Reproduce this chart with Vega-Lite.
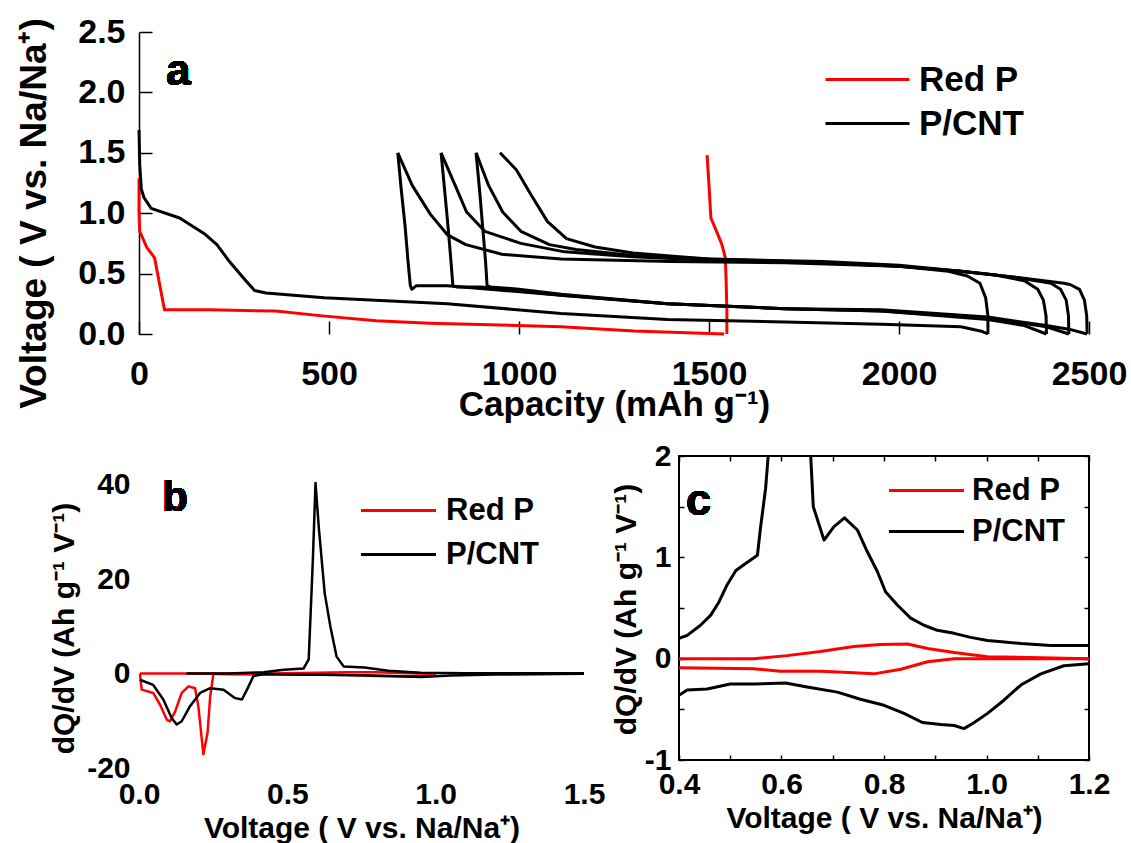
{
  "$schema": "https://vega.github.io/schema/vega-lite/v6.json",
  "background": "white",
  "padding": {"left": 14, "top": 15, "right": 0, "bottom": 0},
  "config": {
    "view": {"stroke": null},
    "font": "Liberation Sans",
    "axis": {"labelFont": "Liberation Sans", "titleFont": "Liberation Sans", "labelFontWeight": "bold", "titleFontWeight": "bold", "labelColor": "black", "titleColor": "black", "tickColor": "black", "domainColor": "black", "grid": false, "labelOverlap": false, "labelFlush": false, "labelBound": false},
    "legend": {"labelFont": "Liberation Sans", "labelFontWeight": "bold", "labelColor": "black", "padding": 0, "symbolType": "M-3,0H3", "title": null}
  },
  "datasets": {
    "a": [
      {"s":"Red P","k":"r1","x":0,"y":1.29},{"s":"Red P","k":"r1","x":0,"y":1.0},{"s":"Red P","k":"r1","x":2,"y":0.85},{"s":"Red P","k":"r1","x":20,"y":0.72},{"s":"Red P","k":"r1","x":41,"y":0.63},{"s":"Red P","k":"r1","x":67,"y":0.2},{"s":"Red P","k":"r1","x":183,"y":0.2},{"s":"Red P","k":"r1","x":360,"y":0.19},{"s":"Red P","k":"r1","x":482,"y":0.15},{"s":"Red P","k":"r1","x":624,"y":0.11},{"s":"Red P","k":"r1","x":765,"y":0.09},{"s":"Red P","k":"r1","x":1111,"y":0.06},{"s":"Red P","k":"r1","x":1303,"y":0.025},{"s":"Red P","k":"r1","x":1540,"y":0.0},
      {"s":"Red P","k":"r2","x":1547,"y":0.0},{"s":"Red P","k":"r2","x":1547,"y":0.19},{"s":"Red P","k":"r2","x":1545,"y":0.45},{"s":"Red P","k":"r2","x":1543,"y":0.63},{"s":"Red P","k":"r2","x":1534,"y":0.74},{"s":"Red P","k":"r2","x":1520,"y":0.85},{"s":"Red P","k":"r2","x":1505,"y":0.96},{"s":"Red P","k":"r2","x":1500,"y":1.23},{"s":"Red P","k":"r2","x":1495,"y":1.48},
      {"s":"P/CNT","k":"d1","x":0,"y":1.69},{"s":"P/CNT","k":"d1","x":2,"y":1.4},{"s":"P/CNT","k":"d1","x":6,"y":1.2},{"s":"P/CNT","k":"d1","x":13,"y":1.13},{"s":"P/CNT","k":"d1","x":32,"y":1.04},{"s":"P/CNT","k":"d1","x":107,"y":0.96},{"s":"P/CNT","k":"d1","x":172,"y":0.83},{"s":"P/CNT","k":"d1","x":205,"y":0.74},{"s":"P/CNT","k":"d1","x":238,"y":0.6},{"s":"P/CNT","k":"d1","x":276,"y":0.46},{"s":"P/CNT","k":"d1","x":304,"y":0.36},{"s":"P/CNT","k":"d1","x":334,"y":0.34},{"s":"P/CNT","k":"d1","x":487,"y":0.3},{"s":"P/CNT","k":"d1","x":811,"y":0.25},{"s":"P/CNT","k":"d1","x":1111,"y":0.17},{"s":"P/CNT","k":"d1","x":1391,"y":0.12},{"s":"P/CNT","k":"d1","x":1700,"y":0.1},{"s":"P/CNT","k":"d1","x":1953,"y":0.08},{"s":"P/CNT","k":"d1","x":2163,"y":0.06},{"s":"P/CNT","k":"d1","x":2220,"y":0.02},{"s":"P/CNT","k":"d1","x":2234,"y":0.0},
      {"s":"P/CNT","k":"c1","x":2234,"y":0.0},{"s":"P/CNT","k":"c1","x":2234,"y":0.15},{"s":"P/CNT","k":"c1","x":2228,"y":0.3},{"s":"P/CNT","k":"c1","x":2213,"y":0.42},{"s":"P/CNT","k":"c1","x":2180,"y":0.48},{"s":"P/CNT","k":"c1","x":2130,"y":0.52},{"s":"P/CNT","k":"c1","x":2000,"y":0.56},{"s":"P/CNT","k":"c1","x":1700,"y":0.59},{"s":"P/CNT","k":"c1","x":1400,"y":0.6},{"s":"P/CNT","k":"c1","x":1111,"y":0.62},{"s":"P/CNT","k":"c1","x":955,"y":0.66},{"s":"P/CNT","k":"c1","x":860,"y":0.74},{"s":"P/CNT","k":"c1","x":812,"y":0.82},{"s":"P/CNT","k":"c1","x":767,"y":0.99},{"s":"P/CNT","k":"c1","x":719,"y":1.23},{"s":"P/CNT","k":"c1","x":681,"y":1.5},
      {"s":"P/CNT","k":"d2","x":681,"y":1.5},{"s":"P/CNT","k":"d2","x":690,"y":1.2},{"s":"P/CNT","k":"d2","x":700,"y":0.9},{"s":"P/CNT","k":"d2","x":708,"y":0.6},{"s":"P/CNT","k":"d2","x":714,"y":0.4},{"s":"P/CNT","k":"d2","x":718,"y":0.37},{"s":"P/CNT","k":"d2","x":730,"y":0.4},{"s":"P/CNT","k":"d2","x":811,"y":0.4},{"s":"P/CNT","k":"d2","x":1111,"y":0.32},{"s":"P/CNT","k":"d2","x":1391,"y":0.25},{"s":"P/CNT","k":"d2","x":1700,"y":0.21},{"s":"P/CNT","k":"d2","x":1953,"y":0.19},{"s":"P/CNT","k":"d2","x":2234,"y":0.12},{"s":"P/CNT","k":"d2","x":2330,"y":0.07},{"s":"P/CNT","k":"d2","x":2388,"y":0.0},
      {"s":"P/CNT","k":"c2","x":2388,"y":0.0},{"s":"P/CNT","k":"c2","x":2387,"y":0.15},{"s":"P/CNT","k":"c2","x":2380,"y":0.28},{"s":"P/CNT","k":"c2","x":2365,"y":0.37},{"s":"P/CNT","k":"c2","x":2330,"y":0.44},{"s":"P/CNT","k":"c2","x":2250,"y":0.49},{"s":"P/CNT","k":"c2","x":2163,"y":0.52},{"s":"P/CNT","k":"c2","x":2000,"y":0.56},{"s":"P/CNT","k":"c2","x":1800,"y":0.59},{"s":"P/CNT","k":"c2","x":1500,"y":0.61},{"s":"P/CNT","k":"c2","x":1300,"y":0.64},{"s":"P/CNT","k":"c2","x":1120,"y":0.68},{"s":"P/CNT","k":"c2","x":1005,"y":0.75},{"s":"P/CNT","k":"c2","x":910,"y":0.85},{"s":"P/CNT","k":"c2","x":862,"y":1.01},{"s":"P/CNT","k":"c2","x":832,"y":1.23},{"s":"P/CNT","k":"c2","x":795,"y":1.5},
      {"s":"P/CNT","k":"d3","x":795,"y":1.5},{"s":"P/CNT","k":"d3","x":804,"y":1.2},{"s":"P/CNT","k":"d3","x":813,"y":0.9},{"s":"P/CNT","k":"d3","x":821,"y":0.6},{"s":"P/CNT","k":"d3","x":826,"y":0.4},{"s":"P/CNT","k":"d3","x":835,"y":0.39},{"s":"P/CNT","k":"d3","x":900,"y":0.39},{"s":"P/CNT","k":"d3","x":1111,"y":0.32},{"s":"P/CNT","k":"d3","x":1391,"y":0.25},{"s":"P/CNT","k":"d3","x":1700,"y":0.21},{"s":"P/CNT","k":"d3","x":1953,"y":0.19},{"s":"P/CNT","k":"d3","x":2234,"y":0.13},{"s":"P/CNT","k":"d3","x":2388,"y":0.06},{"s":"P/CNT","k":"d3","x":2447,"y":0.0},
      {"s":"P/CNT","k":"c3","x":2447,"y":0.0},{"s":"P/CNT","k":"c3","x":2446,"y":0.15},{"s":"P/CNT","k":"c3","x":2440,"y":0.28},{"s":"P/CNT","k":"c3","x":2425,"y":0.37},{"s":"P/CNT","k":"c3","x":2400,"y":0.42},{"s":"P/CNT","k":"c3","x":2305,"y":0.47},{"s":"P/CNT","k":"c3","x":2163,"y":0.52},{"s":"P/CNT","k":"c3","x":2000,"y":0.56},{"s":"P/CNT","k":"c3","x":1800,"y":0.59},{"s":"P/CNT","k":"c3","x":1500,"y":0.62},{"s":"P/CNT","k":"c3","x":1300,"y":0.65},{"s":"P/CNT","k":"c3","x":1150,"y":0.7},{"s":"P/CNT","k":"c3","x":1080,"y":0.74},{"s":"P/CNT","k":"c3","x":1005,"y":0.85},{"s":"P/CNT","k":"c3","x":957,"y":1.01},{"s":"P/CNT","k":"c3","x":920,"y":1.23},{"s":"P/CNT","k":"c3","x":887,"y":1.5},
      {"s":"P/CNT","k":"d4","x":887,"y":1.5},{"s":"P/CNT","k":"d4","x":896,"y":1.2},{"s":"P/CNT","k":"d4","x":904,"y":0.9},{"s":"P/CNT","k":"d4","x":912,"y":0.6},{"s":"P/CNT","k":"d4","x":916,"y":0.4},{"s":"P/CNT","k":"d4","x":925,"y":0.39},{"s":"P/CNT","k":"d4","x":1000,"y":0.37},{"s":"P/CNT","k":"d4","x":1111,"y":0.33},{"s":"P/CNT","k":"d4","x":1391,"y":0.25},{"s":"P/CNT","k":"d4","x":1700,"y":0.21},{"s":"P/CNT","k":"d4","x":1953,"y":0.2},{"s":"P/CNT","k":"d4","x":2234,"y":0.14},{"s":"P/CNT","k":"d4","x":2388,"y":0.07},{"s":"P/CNT","k":"d4","x":2447,"y":0.04},{"s":"P/CNT","k":"d4","x":2495,"y":0.0},
      {"s":"P/CNT","k":"c4","x":2495,"y":0.0},{"s":"P/CNT","k":"c4","x":2494,"y":0.15},{"s":"P/CNT","k":"c4","x":2488,"y":0.28},{"s":"P/CNT","k":"c4","x":2475,"y":0.37},{"s":"P/CNT","k":"c4","x":2450,"y":0.41},{"s":"P/CNT","k":"c4","x":2434,"y":0.42},{"s":"P/CNT","k":"c4","x":2305,"y":0.47},{"s":"P/CNT","k":"c4","x":2163,"y":0.52},{"s":"P/CNT","k":"c4","x":2000,"y":0.57},{"s":"P/CNT","k":"c4","x":1800,"y":0.6},{"s":"P/CNT","k":"c4","x":1500,"y":0.62},{"s":"P/CNT","k":"c4","x":1300,"y":0.67},{"s":"P/CNT","k":"c4","x":1200,"y":0.72},{"s":"P/CNT","k":"c4","x":1125,"y":0.79},{"s":"P/CNT","k":"c4","x":1075,"y":0.93},{"s":"P/CNT","k":"c4","x":1032,"y":1.15},{"s":"P/CNT","k":"c4","x":993,"y":1.36},{"s":"P/CNT","k":"c4","x":950,"y":1.5}
    ],
    "b": [
      {"s":"Red P","k":"rd","x":1.0,"y":-0.3},{"s":"Red P","k":"rd","x":0.9,"y":-0.6},{"s":"Red P","k":"rd","x":0.8,"y":-0.5},{"s":"Red P","k":"rd","x":0.7,"y":-0.3},{"s":"Red P","k":"rd","x":0.6,"y":-0.2},{"s":"Red P","k":"rd","x":0.45,"y":-0.2},{"s":"Red P","k":"rd","x":0.3,"y":-0.15},{"s":"Red P","k":"rd","x":0.26,"y":-0.1},{"s":"Red P","k":"rd","x":0.251,"y":0.0},{"s":"Red P","k":"rd","x":0.24,"y":-4.8},{"s":"Red P","k":"rd","x":0.231,"y":-12.6},{"s":"Red P","k":"rd","x":0.217,"y":-17.1},{"s":"Red P","k":"rd","x":0.2,"y":-6.9},{"s":"Red P","k":"rd","x":0.189,"y":-3.1},{"s":"Red P","k":"rd","x":0.167,"y":-2.7},{"s":"Red P","k":"rd","x":0.144,"y":-4.1},{"s":"Red P","k":"rd","x":0.122,"y":-8.0},{"s":"Red P","k":"rd","x":0.105,"y":-10.1},{"s":"Red P","k":"rd","x":0.094,"y":-9.8},{"s":"Red P","k":"rd","x":0.071,"y":-6.6},{"s":"Red P","k":"rd","x":0.048,"y":-4.1},{"s":"Red P","k":"rd","x":0.009,"y":-3.4},{"s":"Red P","k":"rd","x":0.003,"y":0.0},
      {"s":"Red P","k":"rc","x":0.003,"y":0.0},{"s":"Red P","k":"rc","x":0.4,"y":0.0},{"s":"Red P","k":"rc","x":0.5,"y":0.1},{"s":"Red P","k":"rc","x":0.6,"y":0.2},{"s":"Red P","k":"rc","x":0.7,"y":0.3},{"s":"Red P","k":"rc","x":0.8,"y":0.3},{"s":"Red P","k":"rc","x":0.9,"y":0.1},{"s":"Red P","k":"rc","x":1.0,"y":0.0},
      {"s":"P/CNT","k":"kc","x":0.16,"y":0.0},{"s":"P/CNT","k":"kc","x":0.3,"y":0.0},{"s":"P/CNT","k":"kc","x":0.42,"y":0.3},{"s":"P/CNT","k":"kc","x":0.488,"y":0.8},{"s":"P/CNT","k":"kc","x":0.555,"y":1.1},{"s":"P/CNT","k":"kc","x":0.572,"y":3.0},{"s":"P/CNT","k":"kc","x":0.586,"y":24},{"s":"P/CNT","k":"kc","x":0.595,"y":40.4},{"s":"P/CNT","k":"kc","x":0.606,"y":31},{"s":"P/CNT","k":"kc","x":0.626,"y":17},{"s":"P/CNT","k":"kc","x":0.645,"y":10},{"s":"P/CNT","k":"kc","x":0.666,"y":3.6},{"s":"P/CNT","k":"kc","x":0.69,"y":1.5},{"s":"P/CNT","k":"kc","x":0.76,"y":1.3},{"s":"P/CNT","k":"kc","x":0.84,"y":0.6},{"s":"P/CNT","k":"kc","x":0.95,"y":0.2},{"s":"P/CNT","k":"kc","x":1.1,"y":0.1},{"s":"P/CNT","k":"kc","x":1.5,"y":0.05},
      {"s":"P/CNT","k":"kd","x":1.5,"y":-0.05},{"s":"P/CNT","k":"kd","x":1.2,"y":-0.2},{"s":"P/CNT","k":"kd","x":1.05,"y":-0.4},{"s":"P/CNT","k":"kd","x":0.95,"y":-0.7},{"s":"P/CNT","k":"kd","x":0.85,"y":-0.5},{"s":"P/CNT","k":"kd","x":0.75,"y":-0.35},{"s":"P/CNT","k":"kd","x":0.6,"y":-0.25},{"s":"P/CNT","k":"kd","x":0.5,"y":-0.2},{"s":"P/CNT","k":"kd","x":0.42,"y":-0.1},{"s":"P/CNT","k":"kd","x":0.386,"y":-0.5},{"s":"P/CNT","k":"kd","x":0.364,"y":-3.4},{"s":"P/CNT","k":"kd","x":0.347,"y":-5.5},{"s":"P/CNT","k":"kd","x":0.324,"y":-5.2},{"s":"P/CNT","k":"kd","x":0.285,"y":-3.4},{"s":"P/CNT","k":"kd","x":0.24,"y":-3.1},{"s":"P/CNT","k":"kd","x":0.206,"y":-4.1},{"s":"P/CNT","k":"kd","x":0.172,"y":-6.9},{"s":"P/CNT","k":"kd","x":0.144,"y":-10.1},{"s":"P/CNT","k":"kd","x":0.127,"y":-10.8},{"s":"P/CNT","k":"kd","x":0.11,"y":-9.4},{"s":"P/CNT","k":"kd","x":0.082,"y":-5.5},{"s":"P/CNT","k":"kd","x":0.048,"y":-2.4},{"s":"P/CNT","k":"kd","x":0.003,"y":-1.3}
    ],
    "c": [
      {"s":"Red P","k":"rc","x":0.4,"y":0.0},{"s":"Red P","k":"rc","x":0.546,"y":0.0},{"s":"Red P","k":"rc","x":0.611,"y":0.03},{"s":"Red P","k":"rc","x":0.676,"y":0.07},{"s":"Red P","k":"rc","x":0.741,"y":0.12},{"s":"Red P","k":"rc","x":0.793,"y":0.14},{"s":"Red P","k":"rc","x":0.846,"y":0.145},{"s":"Red P","k":"rc","x":0.885,"y":0.1},{"s":"Red P","k":"rc","x":0.937,"y":0.06},{"s":"Red P","k":"rc","x":1.002,"y":0.02},{"s":"Red P","k":"rc","x":1.2,"y":0.0},
      {"s":"Red P","k":"rd","x":0.4,"y":-0.09},{"s":"Red P","k":"rd","x":0.546,"y":-0.1},{"s":"Red P","k":"rd","x":0.598,"y":-0.125},{"s":"Red P","k":"rd","x":0.676,"y":-0.125},{"s":"Red P","k":"rd","x":0.741,"y":-0.14},{"s":"Red P","k":"rd","x":0.78,"y":-0.15},{"s":"Red P","k":"rd","x":0.833,"y":-0.105},{"s":"Red P","k":"rd","x":0.885,"y":-0.03},{"s":"Red P","k":"rd","x":0.937,"y":0.0},{"s":"Red P","k":"rd","x":1.002,"y":0.0},{"s":"Red P","k":"rd","x":1.2,"y":0.0},
      {"s":"P/CNT","k":"kc","x":0.4,"y":0.2},{"s":"P/CNT","k":"kc","x":0.416,"y":0.23},{"s":"P/CNT","k":"kc","x":0.442,"y":0.33},{"s":"P/CNT","k":"kc","x":0.462,"y":0.43},{"s":"P/CNT","k":"kc","x":0.478,"y":0.56},{"s":"P/CNT","k":"kc","x":0.494,"y":0.73},{"s":"P/CNT","k":"kc","x":0.511,"y":0.87},{"s":"P/CNT","k":"kc","x":0.53,"y":0.94},{"s":"P/CNT","k":"kc","x":0.553,"y":1.02},{"s":"P/CNT","k":"kc","x":0.559,"y":1.29},{"s":"P/CNT","k":"kc","x":0.569,"y":1.68},{"s":"P/CNT","k":"kc","x":0.574,"y":2.0},{"s":"P/CNT","k":"kc","x":0.595,"y":40.4},{"s":"P/CNT","k":"kc","x":0.657,"y":2.0},{"s":"P/CNT","k":"kc","x":0.662,"y":1.5},{"s":"P/CNT","k":"kc","x":0.683,"y":1.17},{"s":"P/CNT","k":"kc","x":0.702,"y":1.3},{"s":"P/CNT","k":"kc","x":0.723,"y":1.39},{"s":"P/CNT","k":"kc","x":0.748,"y":1.27},{"s":"P/CNT","k":"kc","x":0.767,"y":1.06},{"s":"P/CNT","k":"kc","x":0.787,"y":0.86},{"s":"P/CNT","k":"kc","x":0.803,"y":0.66},{"s":"P/CNT","k":"kc","x":0.826,"y":0.53},{"s":"P/CNT","k":"kc","x":0.852,"y":0.4},{"s":"P/CNT","k":"kc","x":0.878,"y":0.33},{"s":"P/CNT","k":"kc","x":0.904,"y":0.28},{"s":"P/CNT","k":"kc","x":0.937,"y":0.25},{"s":"P/CNT","k":"kc","x":0.969,"y":0.21},{"s":"P/CNT","k":"kc","x":1.002,"y":0.18},{"s":"P/CNT","k":"kc","x":1.067,"y":0.15},{"s":"P/CNT","k":"kc","x":1.125,"y":0.13},{"s":"P/CNT","k":"kc","x":1.2,"y":0.13},
      {"s":"P/CNT","k":"kd","x":0.4,"y":-0.36},{"s":"P/CNT","k":"kd","x":0.416,"y":-0.31},{"s":"P/CNT","k":"kd","x":0.455,"y":-0.3},{"s":"P/CNT","k":"kd","x":0.5,"y":-0.25},{"s":"P/CNT","k":"kd","x":0.546,"y":-0.25},{"s":"P/CNT","k":"kd","x":0.608,"y":-0.24},{"s":"P/CNT","k":"kd","x":0.65,"y":-0.28},{"s":"P/CNT","k":"kd","x":0.709,"y":-0.33},{"s":"P/CNT","k":"kd","x":0.754,"y":-0.4},{"s":"P/CNT","k":"kd","x":0.8,"y":-0.46},{"s":"P/CNT","k":"kd","x":0.839,"y":-0.54},{"s":"P/CNT","k":"kd","x":0.875,"y":-0.63},{"s":"P/CNT","k":"kd","x":0.911,"y":-0.65},{"s":"P/CNT","k":"kd","x":0.937,"y":-0.66},{"s":"P/CNT","k":"kd","x":0.956,"y":-0.69},{"s":"P/CNT","k":"kd","x":0.976,"y":-0.63},{"s":"P/CNT","k":"kd","x":1.002,"y":-0.54},{"s":"P/CNT","k":"kd","x":1.034,"y":-0.41},{"s":"P/CNT","k":"kd","x":1.067,"y":-0.26},{"s":"P/CNT","k":"kd","x":1.106,"y":-0.15},{"s":"P/CNT","k":"kd","x":1.151,"y":-0.07},{"s":"P/CNT","k":"kd","x":1.2,"y":-0.05}
    ]
  },
  "bounds": "flush",
  "spacing": 122,
  "resolve": {"scale": {"color": "independent"}, "legend": {"color": "independent"}},
  "vconcat": [
    {
      "width": 950, "height": 302,
      "data": {"name": "a"},
      "layer": [
        {
          "mark": {"type": "line", "strokeWidth": 3, "strokeJoin": "round"},
          "encoding": {
            "x": {"field": "x", "type": "quantitative", "scale": {"domain": [0, 2500], "nice": false, "zero": false},
              "axis": {"values": [0, 500, 1000, 1500, 2000, 2500], "format": "d", "domain": false, "ticks": true, "tickSize": -13, "tickWidth": 1.5, "labelPadding": 36, "labelFontSize": 34, "title": "Capacity (mAh g⁻¹)", "titleFontSize": 35, "titleY": 53, "titleBaseline": "top"}},
            "y": {"field": "y", "type": "quantitative", "scale": {"domain": [0, 2.5], "nice": false, "zero": false},
              "axis": {"values": [0, 0.5, 1, 1.5, 2, 2.5], "format": ".1f", "domain": true, "domainWidth": 1.5, "ticks": true, "tickSize": -13, "tickWidth": 1.5, "labelPadding": 27, "labelFontSize": 34, "title": "Voltage ( V vs. Na/Na⁺)", "titleFontSize": 37, "titleX": -94, "titleY": 181, "titleAngle": -90, "titleBaseline": "alphabetic", "titleAlign": "center"}},
            "color": {"field": "s", "type": "nominal", "scale": {"domain": ["Red P", "P/CNT"], "range": ["#ff0000", "#000000"]},
              "legend": {"title": null, "orient": "none", "legendX": 711, "legendY": 30, "symbolSize": 784, "symbolStrokeWidth": 3, "labelFontSize": 35, "labelOffset": 34, "rowPadding": 8}},
            "detail": {"field": "k"},
            "order": {"value": null}
          }
        },
        {
          "mark": {"type": "text", "text": "a", "fontSize": 44, "fontWeight": "bold", "font": "Liberation Sans", "color": "black", "align": "left", "baseline": "middle"},
          "encoding": {
            "x": {"datum": 71, "type": "quantitative"},
            "y": {"datum": 2.17, "type": "quantitative"}
          }
        }
      ]
    },
    {
      "bounds": "flush",
      "spacing": 95,
      "resolve": {"scale": {"color": "independent"}, "legend": {"color": "independent"}},
      "hconcat": [
        {
          "width": 445, "height": 312,
          "data": {"name": "b"},
          "layer": [
            {
              "mark": {"type": "line", "strokeWidth": 2.5, "strokeJoin": "round"},
              "encoding": {
                "x": {"field": "x", "type": "quantitative", "scale": {"domain": [0, 1.5], "nice": false, "zero": false},
                  "axis": {"values": [0, 0.5, 1, 1.5], "format": ".1f", "domain": false, "ticks": false, "labelPadding": 11, "labelFontSize": 30, "title": "Voltage ( V vs. Na/Na⁺)", "titleFontSize": 30, "titleY": 45, "titleBaseline": "top"}},
                "y": {"field": "y", "type": "quantitative", "scale": {"domain": [-20, 46.1], "nice": false, "zero": false},
                  "axis": {"values": [-20, 0, 20, 40], "labelExpr": "datum.value < 0 ? '-' + abs(datum.value) : '' + datum.value", "domain": false, "ticks": false, "labelPadding": 9, "labelFontSize": 30, "title": "dQ/dV (Ah g⁻¹ V⁻¹)", "titleFontSize": 30, "titleX": -66, "titleY": 172, "titleAngle": -90, "titleBaseline": "alphabetic", "titleAlign": "center"}},
                "color": {"field": "s", "type": "nominal", "scale": {"domain": ["Red P", "P/CNT"], "range": ["#ff0000", "#000000"]},
                  "legend": {"title": null, "orient": "none", "legendX": 244, "legendY": 39, "symbolSize": 625, "symbolStrokeWidth": 3, "labelFontSize": 31, "labelOffset": 32, "rowPadding": 12}},
                "detail": {"field": "k"},
                "order": {"value": null}
              }
            },
            {
              "mark": {"type": "text", "text": "b", "fontSize": 42, "fontWeight": "bold", "font": "Liberation Sans", "color": "black", "align": "left", "baseline": "middle"},
              "encoding": {
                "x": {"datum": 0.078, "type": "quantitative"},
                "y": {"datum": 37.1, "type": "quantitative"}
              }
            }
          ]
        },
        {
          "width": 410, "height": 304,
          "view": {"stroke": "black", "strokeWidth": 2},
          "data": {"name": "c"},
          "layer": [
            {
              "transform": [{"filter": "datum.s == 'Red P'"}],
              "mark": {"type": "line", "strokeWidth": 3, "strokeJoin": "round", "clip": true},
              "encoding": {
                "x": {"field": "x", "type": "quantitative", "scale": {"domain": [0.4, 1.2], "nice": false, "zero": false},
                  "axis": {"orient": "bottom", "values": [0.4, 0.5, 0.6, 0.7, 0.8, 0.9, 1.0, 1.1, 1.2], "labelExpr": "round(datum.value*10) % 2 == 0 ? format(datum.value, '.1f') : ''", "domain": false, "tickSize": -5, "tickWidth": 1.5, "labelPadding": 14, "labelFontSize": 30, "title": "Voltage ( V vs. Na/Na⁺)", "titleFontSize": 30, "titleY": 43, "titleBaseline": "top"}},
                "y": {"field": "y", "type": "quantitative", "scale": {"domain": [-1, 2], "nice": false, "zero": false},
                  "axis": {"orient": "left", "values": [-1, -0.5, 0, 0.5, 1, 1.5, 2], "labelExpr": "datum.value % 1 == 0 ? (datum.value < 0 ? '-' + abs(datum.value) : '' + datum.value) : ''", "domain": false, "tickSize": -5, "tickWidth": 1.5, "labelPadding": 13, "labelFontSize": 30, "title": "dQ/dV (Ah g⁻¹ V⁻¹)", "titleFontSize": 30, "titleX": -44, "titleY": 153, "titleAngle": -90, "titleBaseline": "alphabetic", "titleAlign": "center"}},
                "color": {"field": "s", "type": "nominal", "scale": {"domain": ["Red P", "P/CNT"], "range": ["#ff0000", "#000000"]},
                  "legend": {"title": null, "orient": "none", "legendX": 232, "legendY": 19, "symbolSize": 625, "symbolStrokeWidth": 3, "labelFontSize": 31, "labelOffset": 30, "rowPadding": 9}},
                "detail": {"field": "k"},
                "order": {"value": null}
              }
            },
            {
              "transform": [{"filter": "datum.s == 'P/CNT'"}],
              "mark": {"type": "line", "strokeWidth": 3, "strokeJoin": "round", "clip": true},
              "encoding": {
                "x": {"field": "x", "type": "quantitative",
                  "axis": {"orient": "top", "values": [0.4, 0.5, 0.6, 0.7, 0.8, 0.9, 1.0, 1.1, 1.2], "labels": false, "domain": false, "tickSize": -5, "tickWidth": 1.5, "title": null}},
                "y": {"field": "y", "type": "quantitative",
                  "axis": {"orient": "right", "values": [-1, -0.5, 0, 0.5, 1, 1.5, 2], "labels": false, "domain": false, "tickSize": -5, "tickWidth": 1.5, "title": null}},
                "color": {"field": "s", "type": "nominal"},
                "detail": {"field": "k"},
                "order": {"value": null}
              }
            },
            {
              "mark": {"type": "text", "text": "c", "fontSize": 45, "fontWeight": "bold", "font": "Liberation Sans", "color": "black", "align": "left", "baseline": "middle"},
              "encoding": {
                "x": {"datum": 0.4137, "type": "quantitative", "axis": null},
                "y": {"datum": 1.555, "type": "quantitative", "axis": null}
              }
            }
          ],
          "resolve": {"axis": {"x": "independent", "y": "independent"}}
        }
      ]
    }
  ]
}
